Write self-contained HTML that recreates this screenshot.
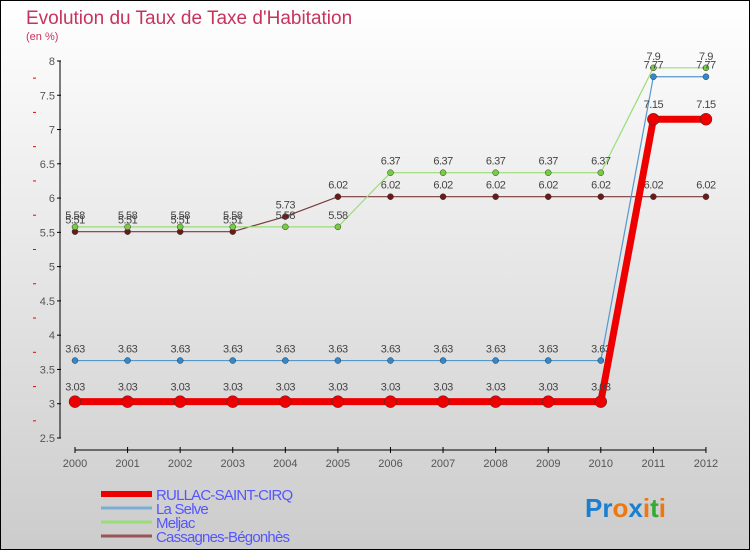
<!DOCTYPE html>
<html><head><meta charset="utf-8"><style>
body{margin:0;}
#c{width:748px;height:548px;border:1px solid #000;background:linear-gradient(#ffffff,#cccccc);position:relative;overflow:hidden;font-family:"Liberation Sans",sans-serif;}
</style></head><body>
<div id="c">
<svg id="s" width="748" height="548" xmlns="http://www.w3.org/2000/svg">
<text x="25" y="23" font-size="19" fill="#c8335e">Evolution du Taux de Taxe d'Habitation</text>
<text x="25" y="39" font-size="11" fill="#c8335e">(en %)</text>
</svg>
</div>
<script>
const years=[2000,2001,2002,2003,2004,2005,2006,2007,2008,2009,2010,2011,2012];
const rullac=[3.03,3.03,3.03,3.03,3.03,3.03,3.03,3.03,3.03,3.03,3.03,7.15,7.15];
const laSelve=[3.63,3.63,3.63,3.63,3.63,3.63,3.63,3.63,3.63,3.63,3.63,7.77,7.77];
const meljac=[5.58,5.58,5.58,5.58,5.58,5.58,6.37,6.37,6.37,6.37,6.37,7.9,7.9];
const cassagnes=[5.51,5.51,5.51,5.51,5.73,6.02,6.02,6.02,6.02,6.02,6.02,6.02,6.02];
const yTicks=[2.5,3,3.5,4,4.5,5,5.5,6,6.5,7,7.5,8];
const seriesNames=["RULLAC-SAINT-CIRQ","La Selve","Meljac","Cassagnes-Bégonhès"];
const NS="http://www.w3.org/2000/svg";
const s=document.getElementById('s');
const x=i=>74+i*52.58;
const y=v=>437-(v-2.5)*68.55;
function mk(t,a,p){const e=document.createElementNS(NS,t);for(const k in a)e.setAttribute(k,a[k]);(p||s).appendChild(e);return e;}
// axes
let ya=mk('line',{x1:59,y1:y(8),x2:59,y2:y(2.5),stroke:'#000'});


let xa=mk('line',{x1:x(0),y1:449,x2:x(12),y2:449,stroke:'#000'});


yTicks.forEach(v=>{
  mk('line',{x1:56,y1:y(v),x2:60,y2:y(v),stroke:'#000'});
  let t=mk('text',{x:54,y:y(v)+4,'font-size':11,fill:'#555','text-anchor':'end'});
  t.textContent=v;
  
  
  if(v<8) mk('line',{x1:32,y1:y(v+0.25),x2:35,y2:y(v+0.25),stroke:'#e00'});
});
years.forEach((yr,i)=>{
  mk('line',{x1:x(i),y1:446,x2:x(i),y2:452,stroke:'#000'});
  let t=mk('text',{x:x(i),y:466,'font-size':11,fill:'#555','text-anchor':'middle'});
  t.textContent=yr;
  
  
});
function series(data,color,w,r,ptFill,name,labelDy){
  const g=mk('g',{});
  
  
  mk('polyline',{points:data.map((v,i)=>x(i)+','+y(v)).join(' '),fill:'none',stroke:color,'stroke-width':w},g);
  data.forEach((v,i)=>{
    let c=mk('circle',{cx:x(i),cy:y(v),r:r,fill:ptFill,stroke:'#333','stroke-width':0.5},g);
    
    
    let t=mk('text',{x:x(i),y:y(v)+labelDy,'font-size':11,fill:'#444','text-anchor':'middle','letter-spacing':'-0.5'},g);
    t.textContent=v;
  });
}
series(cassagnes,'#7a3a3a',1.2,3,'#6b1a1a','series-cassagnes',-8);
series(meljac,'#99dd77',1.2,3,'#77cc44','series-meljac',-8);
series(laSelve,'#5599cc',1.2,3,'#3388cc','series-la-selve',-8);
series(rullac,'#ee0000',7,6,'#ee0000','series-rullac',-11);
// legend
const legColors=['#ee0000','#7aaed6','#99dd77','#995555'];
const legW=[6,3,3,3];
seriesNames.forEach((n,i)=>{
  const ly=493+i*14;
  let l=mk('line',{x1:100,y1:ly,x2:151,y2:ly,stroke:legColors[i],'stroke-width':legW[i]});
  
  
  let t=mk('text',{x:155,y:ly+6,'font-size':15,fill:'#5555ff','letter-spacing':'-0.8'});
  t.textContent=n;
  
  
});
let lg=mk('text',{x:584,y:516,'font-size':26,'font-weight':'bold'});


[['Pr','#1a7fd0'],['o','#ee7711'],['x','#1a7fd0'],['i','#ee7711'],['t','#33aa33'],['i','#ee7711']].forEach(([c,f])=>{mk('tspan',{fill:f},lg).textContent=c;});
</script>
</body></html>
